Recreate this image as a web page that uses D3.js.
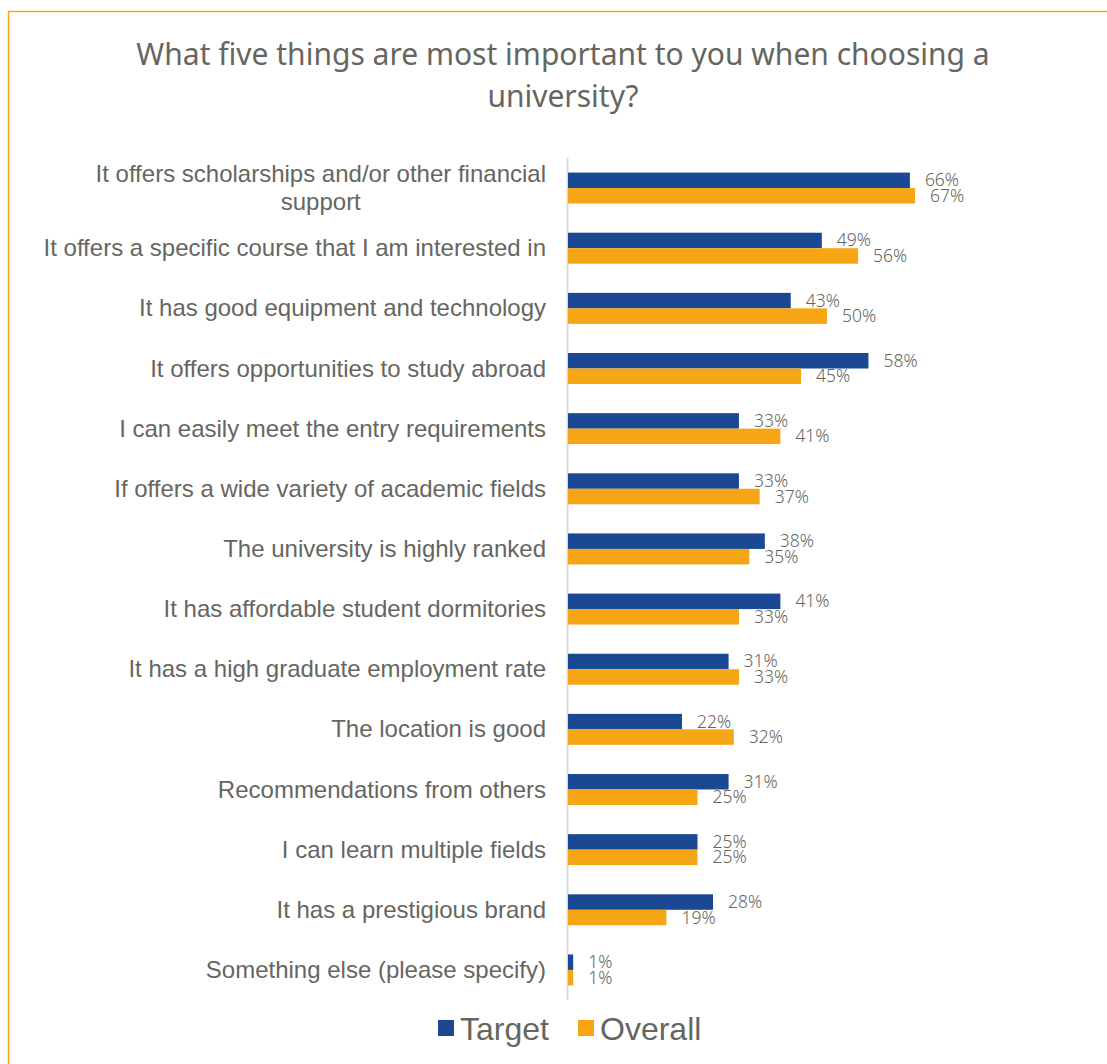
<!DOCTYPE html>
<html>
<head>
<meta charset="utf-8">
<script src="https://cdn.jsdelivr.net/npm/d3@7"></script>
<style>
  body { margin: 0; background: #fff; }
</style>
</head>
<body>
<svg width="1107" height="1064"></svg>
<script>
var categories = [
  "It offers scholarships and/or other financial support",
  "It offers a specific course that I am interested in",
  "It has good equipment and technology",
  "It offers opportunities to study abroad",
  "I can easily meet the entry requirements",
  "If offers a wide variety of academic fields",
  "The university is highly ranked",
  "It has affordable student dormitories",
  "It has a high graduate employment rate",
  "The location is good",
  "Recommendations from others",
  "I can learn multiple fields",
  "It has a prestigious brand",
  "Something else (please specify)"
];
var seriesNames = ["Target", "Overall"];
var targetVals = [66, 49, 43, 58, 33, 33, 38, 41, 31, 22, 31, 25, 28, 1];
var overallVals = [67, 56, 50, 45, 41, 37, 35, 33, 33, 32, 25, 25, 19, 1];
var colors = ["#1b4893", "#f6a614"];

var svg = d3.select("svg");
var textGray = "#66665f";

// outer frame (right and bottom run off the picture)
svg.append("path")
  .attr("d", "M8.5,1064 L8.5,11.5 L1107,11.5")
  .attr("fill", "none")
  .attr("stroke", "#f6a614")
  .attr("stroke-width", 1.5);

// title
var title = svg.append("text")
  .attr("text-anchor", "middle")
  .attr("font-family", "'Noto Sans', sans-serif")
  .attr("font-size", "30px")
  .attr("fill", textGray);
title.append("tspan").attr("x", 563).attr("y", 65).text("What five things are most important to you when choosing a");
title.append("tspan").attr("x", 563).attr("y", 107).text("university?");

var x = d3.scaleLinear().domain([0, 100]).range([568, 1086]);
var y = d3.scaleBand().domain(categories).range([158, 1000]).paddingInner(0.485).paddingOuter(0.2425);
var ySub = d3.scaleBand().domain(seriesNames).range([0, y.bandwidth()]);

// axis line
svg.append("line")
  .attr("x1", 567.5).attr("x2", 567.5)
  .attr("y1", 158).attr("y2", 1000)
  .attr("stroke", "#d9d9d9").attr("stroke-width", 2);

// category labels with wrapping
var g = svg.append("g");
categories.forEach(function(c) {
  var t = g.append("text")
    .attr("text-anchor", "middle")
    .attr("font-family", "'Liberation Sans', Arial, sans-serif")
    .attr("font-size", "24px")
    .attr("fill", textGray);
  var words = c.split(" "), lines = [], line = [];
  var probe = t.append("tspan");
  words.forEach(function(w) {
    line.push(w);
    probe.text(line.join(" "));
    if (probe.node().getComputedTextLength() > 515 && line.length > 1) {
      line.pop();
      lines.push(line.join(" "));
      line = [w];
    }
  });
  lines.push(line.join(" "));
  probe.remove();
  var widths = [];
  lines.forEach(function(l) {
    var s = t.append("tspan").text(l);
    widths.push(s.node().getComputedTextLength());
  });
  var maxW = d3.max(widths);
  var cy = y(c) + y.bandwidth() / 2;
  var lh = 28;
  t.selectAll("tspan")
    .attr("x", 546 - maxW / 2)
    .attr("y", function(d, i) { return cy + 8 + (i - (lines.length - 1) / 2) * lh; });
});

var rows = categories.map(function(c, i) {
  return { cat: c, vals: [targetVals[i], overallVals[i]] };
});

var groups = svg.selectAll(".grp")
  .data(rows)
  .enter().append("g")
  .attr("class", "grp")
  .attr("transform", function(d) { return "translate(0," + y(d.cat) + ")"; });

groups.selectAll("rect")
  .data(function(d) { return d.vals.map(function(v, i) { return { s: seriesNames[i], v: v, i: i }; }); })
  .enter().append("rect")
  .attr("x", x(0))
  .attr("y", function(d) { return ySub(d.s); })
  .attr("width", function(d) { return x(d.v) - x(0); })
  .attr("height", ySub.bandwidth())
  .attr("fill", function(d) { return colors[d.i]; });

groups.selectAll(".lbl")
  .data(function(d) { return d.vals.map(function(v, i) { return { s: seriesNames[i], v: v }; }); })
  .enter().append("text")
  .attr("class", "lbl")
  .attr("x", function(d) { return x(d.v) + 15; })
  .attr("y", function(d) { return ySub(d.s) + ySub.bandwidth() / 2 + 6; })
  .attr("font-family", "'Noto Sans', sans-serif")
  .attr("font-size", "17.5px")
  .attr("font-weight", 300)
  .attr("fill", textGray)
  .text(function(d) { return d.v + "%"; });

// legend
var legX = [438, 578];
var leg = svg.selectAll(".leg")
  .data(seriesNames)
  .enter().append("g")
  .attr("class", "leg")
  .attr("transform", function(d, i) { return "translate(" + legX[i] + ",1020)"; });
leg.append("rect").attr("width", 16).attr("height", 16)
  .attr("fill", function(d, i) { return colors[i]; });
leg.append("text")
  .attr("x", 22).attr("y", 20)
  .attr("font-family", "'Liberation Sans', Arial, sans-serif")
  .attr("font-size", "32px")
  .attr("fill", textGray)
  .text(function(d) { return d; });
</script>
</body>
</html>
